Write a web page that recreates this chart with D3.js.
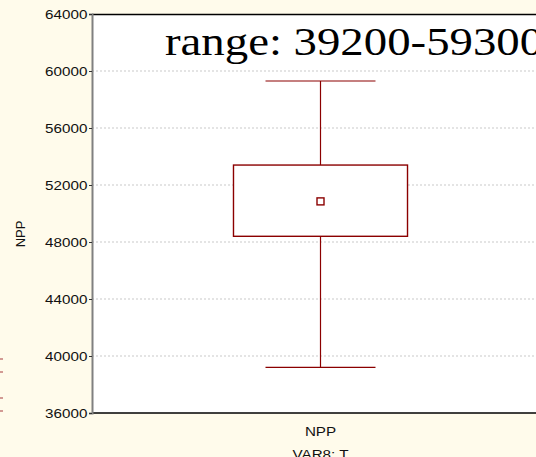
<!DOCTYPE html>
<html>
<head>
<meta charset="utf-8">
<script src="https://cdn.jsdelivr.net/npm/d3@7"></script>
<style>
  html, body { margin: 0; background: #fffbeb; overflow: hidden; }
  svg { display: block; }
</style>
</head>
<body>
<svg id="chart"></svg>
<script>
// box plot values
const categories = ["NPP"];
const whiskerLow = [39200];
const boxLow = [48400];
const meanVals = [50850];
const boxHigh = [53400];
const whiskerHigh = [59300];
const yTicks = [36000, 40000, 44000, 48000, 52000, 56000, 60000, 64000];
const titleText = "range: 39200-59300";
const yTitle = "NPP";
const xTitle = "VAR8: T";

const WIDTH = 536, HEIGHT = 457;
const margins = { top: 14, right: -13, bottom: 44, left: 92 };
const W = WIDTH - margins.left - margins.right;
const H = HEIGHT - margins.top - margins.bottom;
const RED = "#8b0000";
const SANS = "Liberation Sans, Arial, sans-serif";
const STRETCH = 1.17; // text in the picture is a bit wide

const svg = d3.select("#chart").attr("width", WIDTH).attr("height", HEIGHT);

// cut-off legend pieces at the left edge
[359, 372, 398, 411].forEach(yy => {
  svg.append("line").attr("x1", 0).attr("x2", 3).attr("y1", yy).attr("y2", yy)
    .attr("stroke", "#b55a5a").attr("stroke-width", 1.2);
});

const g = svg.append("g").attr("transform", "translate(" + margins.left + "," + margins.top + ")");

const x = d3.scaleBand().domain(categories).range([0, W]).paddingInner(0).paddingOuter(0.813);
const y = d3.scaleLinear().domain([36000, 64000]).range([H, 0]);

g.append("rect").attr("width", W).attr("height", H).attr("fill", "#fff");

// grid
g.selectAll(".grid").data(yTicks.slice(1, -1)).enter().append("line")
  .attr("x1", 0).attr("x2", W)
  .attr("y1", d => y(d)).attr("y2", d => y(d))
  .attr("stroke", "#bbb").attr("stroke-width", 0.8).attr("stroke-dasharray", "2,2");

// borders
g.append("line").attr("x1", 0).attr("x2", W).attr("y1", 0.5).attr("y2", 0.5).attr("stroke", "#000").attr("stroke-width", 1.5);
g.append("line").attr("x1", 0).attr("x2", W).attr("y1", H).attr("y2", H).attr("stroke", "#000").attr("stroke-width", 1.5);

// y axis
const yAxis = g.append("g")
  .call(d3.axisLeft(y).tickValues(yTicks).tickSize(3).tickPadding(1).tickFormat(d3.format("d")));
yAxis.select(".domain").attr("stroke", "#808080").attr("stroke-width", 2);
yAxis.selectAll(".tick line").attr("stroke", "#333");
yAxis.selectAll("text").attr("font-family", SANS).attr("font-size", 13).attr("fill", "#111")
  .attr("transform", "scale(" + STRETCH + ",1)");

// box plot
const boxes = g.selectAll(".box").data(categories).enter().append("g");
const cx = d => x(d) + x.bandwidth() / 2;
const capW = x.bandwidth() * 0.632;

boxes.append("line")
  .attr("x1", d => cx(d)).attr("x2", d => cx(d))
  .attr("y1", (d, i) => y(whiskerHigh[i])).attr("y2", (d, i) => y(boxHigh[i]))
  .attr("stroke", RED).attr("stroke-width", 1.2);
boxes.append("line")
  .attr("x1", d => cx(d)).attr("x2", d => cx(d))
  .attr("y1", (d, i) => y(boxLow[i])).attr("y2", (d, i) => y(whiskerLow[i]))
  .attr("stroke", RED).attr("stroke-width", 1.2);
boxes.append("line")
  .attr("x1", d => cx(d) - capW / 2).attr("x2", d => cx(d) + capW / 2)
  .attr("y1", (d, i) => y(whiskerHigh[i])).attr("y2", (d, i) => y(whiskerHigh[i]))
  .attr("stroke", RED).attr("stroke-width", 1.2);
boxes.append("line")
  .attr("x1", d => cx(d) - capW / 2).attr("x2", d => cx(d) + capW / 2)
  .attr("y1", (d, i) => y(whiskerLow[i])).attr("y2", (d, i) => y(whiskerLow[i]))
  .attr("stroke", RED).attr("stroke-width", 1.2);
boxes.append("rect")
  .attr("x", d => x(d)).attr("width", x.bandwidth())
  .attr("y", (d, i) => y(boxHigh[i])).attr("height", (d, i) => y(boxLow[i]) - y(boxHigh[i]))
  .attr("fill", "#fff").attr("stroke", RED).attr("stroke-width", 1.4);
boxes.append("rect")
  .attr("x", d => cx(d) - 3.5).attr("width", 7)
  .attr("y", (d, i) => y(meanVals[i]) - 3.5).attr("height", 7)
  .attr("fill", "#fff").attr("stroke", RED).attr("stroke-width", 1.4);

// category labels
g.selectAll(".cat").data(categories).enter().append("text")
  .attr("transform", d => "translate(" + cx(d) + "," + (H + 23) + ") scale(" + STRETCH + ",1)")
  .attr("text-anchor", "middle")
  .attr("font-family", SANS).attr("font-size", 13).attr("fill", "#111")
  .text(d => d);

svg.append("text")
  .attr("transform", "translate(" + (margins.left + cx(categories[0])) + "," + (HEIGHT + 2) + ") scale(" + STRETCH + ",1)")
  .attr("text-anchor", "middle")
  .attr("font-family", SANS).attr("font-size", 13).attr("fill", "#111")
  .text(xTitle);

svg.append("text")
  .attr("transform", "translate(25,234) rotate(-90)")
  .attr("text-anchor", "middle")
  .attr("font-family", SANS).attr("font-size", 13).attr("fill", "#111")
  .text(yTitle);

// title
svg.append("text")
  .attr("transform", "translate(165,55) scale(1.2,1)")
  .attr("font-family", "Liberation Serif, Times New Roman, serif").attr("font-size", 39).attr("fill", "#000")
  .text(titleText);
</script>
</body>
</html>
